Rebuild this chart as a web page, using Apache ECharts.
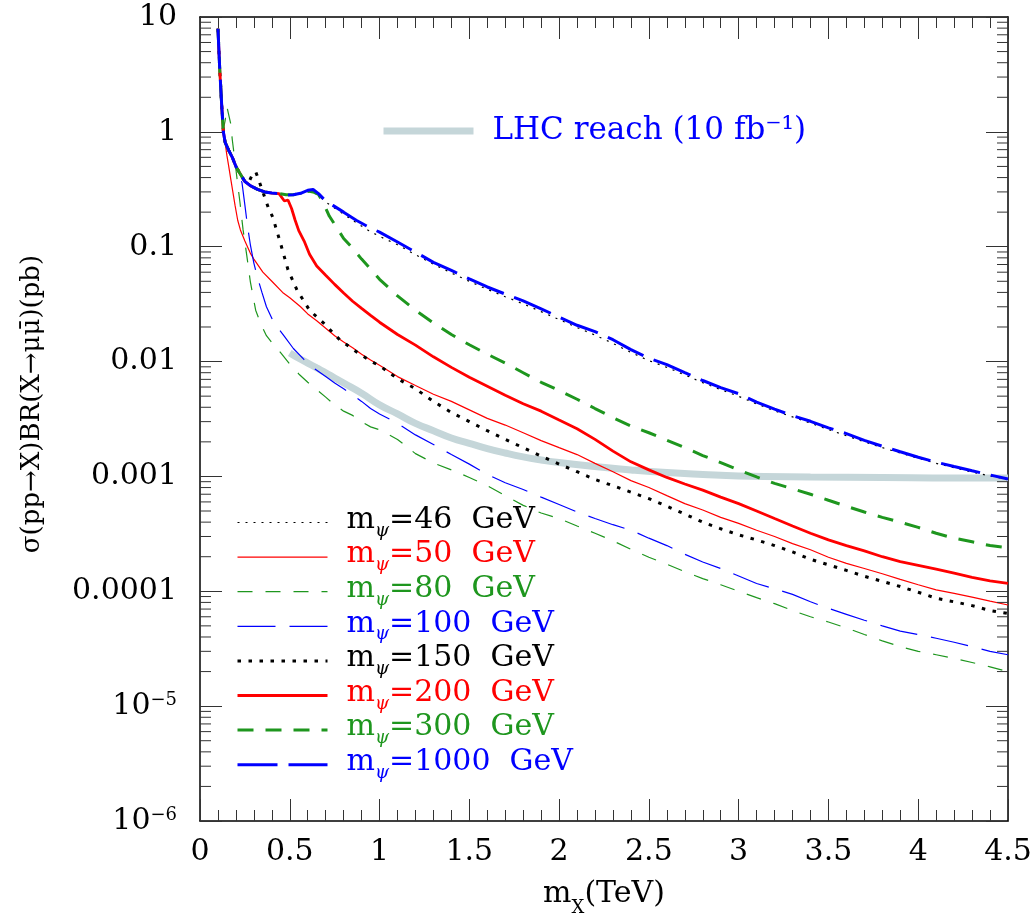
<!DOCTYPE html>
<html><head><meta charset="utf-8">
<script src="https://cdn.jsdelivr.net/npm/echarts@6/dist/echarts.min.js"></script>
<style>html,body{margin:0;padding:0;background:#fff;}#c{width:1035px;height:922px;}</style>
</head><body><div id="c"></div>
<script>
// ---- tick labels ----
const xTickLabels = ['0','0.5','1','1.5','2','2.5','3','3.5','4','4.5'];
const yTickLabels = ['10^−6','10^−5','0.0001','0.001','0.01','0.1','1','10'];
const massLabels = ['46','50','80','100','150','200','300','1000'];

// ---- shared tail abscissa (TeV) ----
const xTail = [1.0,1.1,1.2,1.3,1.4,1.5,1.6,1.7,1.8,1.9,2.0,2.1,2.2,2.3,2.4,2.5,2.6,2.7,2.8,2.9,3.0,3.1,3.2,3.3,3.4,3.5,3.6,3.7,3.8,3.9,4.0,4.1,4.2,4.3,4.4,4.5];

// m_psi = 46 GeV
const x46 = [0.10,0.11,0.12,0.13,0.14,0.16,0.18,0.20,0.22,0.25,0.28,0.32,0.36,0.40,0.44,0.48,0.52,0.56,0.60,0.63,0.66,0.70,0.74,0.80,0.87,0.94];
const y46 = [7.9,3.5,1.8,1.0,0.80,0.68,0.59,0.50,0.44,0.37,0.335,0.312,0.30,0.292,0.288,0.281,0.281,0.288,0.30,0.30,0.28,0.245,0.222,0.192,0.162,0.138];
const y46Tail = [0.123,0.104,0.0852,0.0705,0.0590,0.0500,0.0425,0.0367,0.0318,0.0272,0.0232,0.0198,0.0170,0.0144,0.0120,0.0102,0.0089,0.00765,0.00655,0.00570,0.00498,0.00428,0.00372,0.00330,0.00291,0.00256,0.00226,0.00200,0.00178,0.00160,0.00144,0.00130,0.00119,0.00109,0.00101,0.00094];

// m_psi = 50 GeV
const x50 = [0.10,0.11,0.12,0.13,0.14,0.15,0.16,0.17,0.18,0.195,0.21,0.225,0.25,0.28,0.30,0.35,0.40,0.46,0.50,0.56,0.60,0.65,0.70,0.75,0.80,0.85,0.90,0.95];
const y50 = [7.9,3.5,1.8,1.0,0.80,0.62,0.50,0.40,0.32,0.23,0.17,0.14,0.112,0.088,0.078,0.060,0.050,0.040,0.036,0.030,0.026,0.0227,0.0195,0.0168,0.0148,0.0132,0.0116,0.0103];
const y50Tail = [0.0093,0.0074,0.0062,0.0052,0.0045,0.0038,0.0032,0.0028,0.0024,0.00205,0.00178,0.00155,0.00130,0.00110,0.00092,0.00080,0.00068,0.00058,0.00051,0.00044,0.00039,0.00034,0.00030,0.00026,0.00023,0.000198,0.000175,0.000158,0.000142,0.000127,0.000114,0.000103,0.000096,0.000089,0.000082,0.000076];

// m_psi = 80 GeV
const x80 = [0.10,0.11,0.12,0.13,0.14,0.15,0.16,0.17,0.18,0.195,0.21,0.223,0.24,0.26,0.28,0.31,0.34,0.37,0.41,0.45,0.50,0.55,0.60,0.65,0.70,0.75,0.80,0.85,0.90,0.95];
const y80 = [6.0,2.6,1.4,1.05,1.25,1.65,1.6,1.2,0.85,0.55,0.35,0.24,0.14,0.085,0.050,0.028,0.021,0.0168,0.0140,0.0119,0.0095,0.0078,0.0066,0.0057,0.0049,0.0042,0.0037,0.0034,0.0030,0.0027];
const y80Tail = [0.00255,0.0021,0.00158,0.00131,0.00114,0.00098,0.00083,0.00068,0.00056,0.00048,0.00043,0.00037,0.00032,0.000275,0.000232,0.000198,0.000172,0.000148,0.000129,0.000114,0.000100,0.000088,0.000078,0.000068,0.000060,0.000054,0.000048,0.000042,0.000037,0.000033,0.000030,0.000028,0.000026,0.000024,0.000022,0.000020];

// m_psi = 100 GeV
const x100 = [0.10,0.11,0.12,0.13,0.14,0.16,0.18,0.20,0.215,0.234,0.25,0.265,0.28,0.30,0.32,0.345,0.37,0.41,0.47,0.52,0.58,0.64,0.70,0.75,0.80,0.85,0.90,0.95];
const y100 = [7.9,3.5,1.8,1.0,0.81,0.69,0.60,0.50,0.44,0.36,0.23,0.15,0.105,0.072,0.054,0.040,0.030,0.0220,0.0166,0.0130,0.0104,0.0086,0.0074,0.0065,0.0058,0.0051,0.0045,0.0039];
const y100Tail = [0.0035,0.0029,0.0023,0.0019,0.00155,0.00128,0.00104,0.00088,0.00077,0.00066,0.00057,0.00049,0.00043,0.00038,0.00034,0.00029,0.00025,0.00021,0.00018,0.000158,0.000136,0.000117,0.000105,0.000094,0.000081,0.000071,0.000063,0.000056,0.000050,0.000045,0.000042,0.000039,0.000036,0.000033,0.000030,0.000028];

// m_psi = 150 GeV
const x150 = [0.10,0.11,0.12,0.13,0.14,0.16,0.18,0.20,0.22,0.25,0.27,0.29,0.31,0.33,0.36,0.38,0.405,0.45,0.49,0.54,0.61,0.69,0.78,0.88,0.96];
const y150 = [7.9,3.5,1.8,1.0,0.81,0.69,0.60,0.50,0.44,0.37,0.36,0.42,0.45,0.37,0.27,0.22,0.181,0.105,0.063,0.042,0.028,0.0215,0.0154,0.0119,0.0099];
const y150Tail = [0.0092,0.0071,0.0058,0.0045,0.0036,0.0030,0.0025,0.0021,0.00178,0.00150,0.00128,0.00110,0.00094,0.00083,0.00073,0.00064,0.00055,0.00047,0.00040,0.00035,0.00031,0.00028,0.00025,0.00022,0.00019,0.00017,0.000152,0.000135,0.000122,0.000110,0.000098,0.000087,0.000081,0.000075,0.000068,0.000064];

// m_psi = 200 GeV
const x200 = [0.10,0.11,0.12,0.13,0.14,0.16,0.18,0.20,0.22,0.25,0.28,0.32,0.36,0.40,0.44,0.47,0.49,0.51,0.53,0.55,0.58,0.61,0.65,0.70,0.75,0.80,0.85,0.90,0.95];
const y200 = [7.9,3.5,1.8,1.0,0.81,0.69,0.60,0.50,0.44,0.37,0.34,0.316,0.30,0.293,0.29,0.25,0.255,0.215,0.17,0.138,0.112,0.086,0.068,0.0565,0.0470,0.0395,0.0335,0.0290,0.0252];
const y200Tail = [0.0220,0.0172,0.0139,0.0110,0.0089,0.0073,0.0061,0.0051,0.0043,0.0037,0.0031,0.0026,0.00210,0.00166,0.00134,0.00114,0.00098,0.00086,0.00076,0.00066,0.00058,0.00050,0.00043,0.00037,0.00032,0.00028,0.00025,0.000225,0.000200,0.000181,0.000168,0.000156,0.000144,0.000132,0.000123,0.000117];

// m_psi = 300 GeV
const x300 = [0.10,0.11,0.12,0.13,0.14,0.16,0.18,0.20,0.22,0.25,0.28,0.32,0.36,0.40,0.44,0.48,0.52,0.56,0.60,0.63,0.66,0.69,0.72,0.76,0.80,0.85,0.90,0.95];
const y300 = [7.9,3.5,1.8,1.0,0.81,0.69,0.60,0.50,0.44,0.37,0.34,0.316,0.30,0.293,0.29,0.283,0.284,0.29,0.305,0.30,0.285,0.235,0.185,0.148,0.118,0.097,0.078,0.064];
const y300Tail = [0.052,0.0373,0.0280,0.0217,0.0172,0.0140,0.0116,0.0097,0.0080,0.0066,0.0056,0.0047,0.0039,0.00325,0.00275,0.00240,0.00207,0.00178,0.00152,0.00132,0.00114,0.00099,0.00087,0.00078,0.00070,0.00062,0.00055,0.00049,0.00044,0.00040,0.00036,0.00032,0.00029,0.00027,0.00025,0.00024];

// m_psi = 1000 GeV
const x1000 = [0.10,0.11,0.12,0.13,0.14,0.16,0.18,0.20,0.22,0.25,0.28,0.32,0.36,0.40,0.44,0.48,0.52,0.56,0.60,0.63,0.66,0.70,0.74,0.80,0.87,0.94];
const y1000 = [7.9,3.5,1.8,1.0,0.81,0.69,0.60,0.50,0.44,0.37,0.34,0.316,0.30,0.293,0.29,0.282,0.283,0.292,0.31,0.315,0.29,0.25,0.229,0.20,0.17,0.148];
const y1000Tail = [0.134,0.110,0.0897,0.0731,0.0621,0.0525,0.0446,0.0387,0.0337,0.0288,0.0244,0.0207,0.0182,0.0155,0.0127,0.0107,0.0094,0.0080,0.00684,0.00593,0.00525,0.00443,0.00385,0.00338,0.00302,0.00265,0.00236,0.00206,0.00183,0.00164,0.00147,0.00133,0.00122,0.00112,0.00103,0.00095];

// LHC reach (10 fb^-1)
const xLHC = [0.5,0.55,0.6,0.65,0.7,0.75,0.8,0.9,1.0,1.1,1.2,1.3,1.4,1.5,1.6,1.7,1.8,1.9,2.0,2.2,2.4,2.6,2.8,3.0,3.4,3.8,4.2,4.5];
const yLHC = [0.0119,0.0107,0.0097,0.0088,0.0080,0.0072,0.0065,0.0053,0.0042,0.0035,0.0029,0.0025,0.00216,0.00194,0.00175,0.00160,0.00148,0.00139,0.00132,0.00122,0.00114,0.00108,0.00104,0.00101,0.00099,0.00098,0.00097,0.00097];

// ---------------- styling ----------------
const FONT = "'DejaVu Serif', serif";
const COL = {k:'#000000', r:'#ff0000', g:'#1e961e', b:'#0000ff'};
const LHC_NAME = 'LHC reach (10 fb⁻¹)';

const curveDefs = [
  {m:'46',   xs:[x46, xTail],   ys:[y46, y46Tail],     c:'k', w:1.2, dash:[2,6]},
  {m:'50',   xs:[x50, xTail],   ys:[y50, y50Tail],     c:'r', w:1.2, dash:'solid'},
  {m:'80',   xs:[x80, xTail],   ys:[y80, y80Tail],     c:'g', w:1.2, dash:[15,13]},
  {m:'100',  xs:[x100, xTail],  ys:[y100, y100Tail],   c:'b', w:1.2, dash:[38,14]},
  {m:'150',  xs:[x150, xTail],  ys:[y150, y150Tail],   c:'k', w:3,   dash:[3.5,7.5]},
  {m:'200',  xs:[x200, xTail],  ys:[y200, y200Tail],   c:'r', w:2.8, dash:'solid'},
  {m:'300',  xs:[x300, xTail],  ys:[y300, y300Tail],   c:'g', w:3,   dash:[16,12]},
  {m:'1000', xs:[x1000, xTail], ys:[y1000, y1000Tail], c:'b', w:3,   dash:[40,11]}
];

function pairs(xsList, ysList){
  const out = [];
  xsList.forEach((xs, k) => xs.forEach((x, i) => out.push([x, ysList[k][i]])));
  return out;
}
const nameOf = m => 'mψ=' + m + ' GeV';

const series = [];
series.push({
  name: LHC_NAME, type:'line', data: pairs([xLHC],[yLHC]), smooth: true, symbol:'none',
  lineStyle:{color:'#c5d6d9', width:7}, itemStyle:{color:'#c5d6d9'}, z:1,
  animation:false, emphasis:{disabled:true}
});
curveDefs.forEach(d => {
  series.push({
    name: nameOf(d.m), type:'line', data: pairs(d.xs, d.ys), symbol:'none', smooth:false,
    lineStyle:{color:COL[d.c], width:d.w, type:d.dash}, itemStyle:{color:COL[d.c]}, z:3,
    animation:false, emphasis:{disabled:true}
  });
});

// log-axis minor ticks (2..9 x decade), drawn through the y scale
const yMinor = [];
for (let e = -6; e <= 0; e++) for (let k = 2; k <= 9; k++) yMinor.push([0, k * Math.pow(10, e)]);
series.push({
  type:'custom', name:'minorTicks', silent:true, z:10, clip:false, animation:false,
  data: yMinor,
  renderItem: (params, api) => {
    const cs = params.coordSys;
    const y = api.coord([0, api.value(1)])[1];
    const st = {stroke:'#333', lineWidth:1};
    return {type:'group', children:[
      {type:'line', shape:{x1:cs.x, y1:y, x2:cs.x+11, y2:y}, style:st},
      {type:'line', shape:{x1:cs.x+cs.width-11, y1:y, x2:cs.x+cs.width, y2:y}, style:st}
    ]};
  }
});

// legend rich styles
const legendRich = {};
Object.keys(COL).forEach(c => {
  legendRich['m'+c] = {fontFamily:FONT, fontSize:30, color:COL[c], verticalAlign:'top', lineHeight:35, padding:[0,0,0,14]};
  legendRich['s'+c] = {fontFamily:FONT, fontSize:18, fontStyle:'italic', color:COL[c], verticalAlign:'bottom', lineHeight:35};
  legendRich['t'+c] = {fontFamily:FONT, fontSize:30, color:COL[c], verticalAlign:'top', lineHeight:35};
});

const axisLineStyle = {color:'#000', width:1.5};
const tickStyle = {color:'#333', width:1};

function xAxisCfg(pos, showLabel){
  return {
    type:'value', min:0, max:4.5, interval:0.5, position:pos,
    axisLine:{show:true, onZero:false, lineStyle:axisLineStyle},
    axisTick:{show:true, inside:true, length:22, lineStyle:tickStyle},
    minorTick:{show:true, splitNumber:5, length:11, lineStyle:tickStyle},
    splitLine:{show:false}, minorSplitLine:{show:false},
    axisLabel:{show:showLabel, fontFamily:FONT, fontSize:30, color:'#000', margin:16, lineHeight:30,
      formatter: v => xTickLabels[Math.round(v/0.5)]}
  };
}
function yAxisCfg(pos, showLabel){
  return {
    type:'log', logBase:10, min:1e-6, max:10, position:pos,
    axisLine:{show:true, onZero:false, lineStyle:axisLineStyle},
    axisTick:{show:true, inside:true, length:22, lineStyle:tickStyle},
    splitLine:{show:false},
    axisLabel:{show:showLabel, fontFamily:FONT, fontSize:30, color:'#000', margin:23,
      formatter: v => {
        const t = yTickLabels[Math.round(Math.log10(v)) + 6];
        if (t.indexOf('^') >= 0) { const p = t.split('^'); return '{b|' + p[0] + '}{s|' + p[1] + '}'; }
        return '{b|' + t + '}';
      },
      rich:{
        b:{fontFamily:FONT, fontSize:30, color:'#000', lineHeight:30, verticalAlign:'middle'},
        s:{fontFamily:FONT, fontSize:18, color:'#000', verticalAlign:'top', lineHeight:30}
      }
    }
  };
}

const xa0 = xAxisCfg('bottom', true);
xa0.name = '{m|m}{s|X}{t|(TeV)}';
xa0.nameLocation = 'middle';
xa0.nameGap = 58;
xa0.nameTextStyle = {rich:{
  m:{fontFamily:FONT, fontSize:30, color:'#000', verticalAlign:'top', lineHeight:38},
  s:{fontFamily:FONT, fontSize:18, color:'#000', verticalAlign:'bottom', lineHeight:38},
  t:{fontFamily:FONT, fontSize:30, color:'#000', verticalAlign:'top', lineHeight:38}
}};
const ya0 = yAxisCfg('left', true);
ya0.name = 'σ(pp→X)BR(X→μμ̄)(pb)';
ya0.nameLocation = 'middle';
ya0.nameRotate = 90;
ya0.nameGap = 155;
ya0.nameTextStyle = {fontFamily:FONT, fontSize:26, color:'#000', padding:[0,0,0,30]};

const hiddenSymbol = {opacity:0, borderWidth:0, color:'rgba(0,0,0,0)'};

const option = {
  backgroundColor:'#ffffff',
  animation:false,
  grid:{left:200, top:17, right:27, bottom:100},
  xAxis:[xa0, xAxisCfg('top', false)],
  yAxis:[ya0, yAxisCfg('right', false)],
  legend:[
    {
      data: massLabels.map(nameOf), orient:'vertical', left:236, top:505, padding:0,
      itemWidth:90, itemHeight:14, itemGap:-0.4, selectedMode:false,
      lineStyle:{width:'inherit', type:'inherit'},
      itemStyle: hiddenSymbol,
      formatter: name => {
        const i = massLabels.map(nameOf).indexOf(name);
        const c = curveDefs[i].c;
        return '{m'+c+'|m}{s'+c+'|ψ}{t'+c+'|=' + massLabels[i] + '  GeV}';
      },
      textStyle:{rich:legendRich}
    },
    {
      data:[LHC_NAME], orient:'horizontal', left:380, top:113, padding:0,
      itemWidth:90, itemHeight:14, selectedMode:false,
      lineStyle:{width:'inherit'},
      itemStyle: hiddenSymbol,
      textStyle:{fontFamily:FONT, fontSize:31, color:'#0000ff', lineHeight:36, padding:[0,0,0,14]}
    }
  ],
  series: series
};

const chart = echarts.init(document.getElementById('c'), null, {renderer:'canvas'});
chart.setOption(option);
</script>
</body></html>
